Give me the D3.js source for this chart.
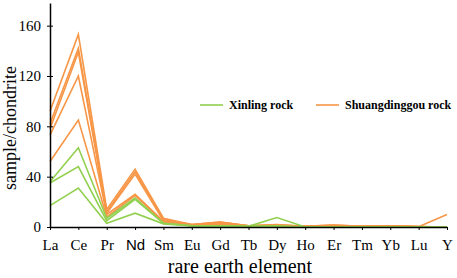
<!DOCTYPE html>
<html>
<head>
<meta charset="utf-8">
<script src="https://cdn.jsdelivr.net/npm/d3@7"></script>
<style>
  html, body { margin: 0; padding: 0; background: #fff; }
  svg { display: block; }
</style>
</head>
<body>
<div id="chart"></div>
<script>
const elements = ['La', 'Ce', 'Pr', 'Nd', 'Sm', 'Eu', 'Gd', 'Tb', 'Dy', 'Ho', 'Er', 'Tm', 'Yb', 'Lu', 'Y'];
const yTicks = [0, 40, 80, 120, 160];

// Xinling rock samples
const xinling1 = [36, 63, 7, 23, 3, 1, 1, 0.5, 7.5, 0, 0, 0, 0, 0, 0];
const xinling2 = [35, 48, 5, 22, 3, 1, 1, 0.5, 1, 0, 0, 0, 0, 0, 0];
const xinling3 = [17, 31, 3, 11, 2.5, 0.8, 0.8, 0.3, 0.5, 0, 0, 0, 0, 0, 0];

// Shuangdinggou rock samples
const shuang1 = [92, 153, 14, 46, 7, 2, 4, 1, 2, 0.5, 1.5, 0.5, 1, 0.3, 10];
const shuang2 = [82, 142, 12, 44, 6, 2, 4, 1, 1.5, 0.5, 1.5, 0.5, 1, 0.3, 0];
const shuang3 = [78, 139, 11, 42, 5, 1.8, 3.5, 1, 1.5, 0.5, 1, 0.5, 1, 0.3, 0];
const shuang4 = [73, 120, 10, 26, 4.5, 1.5, 3, 0.8, 1, 0.3, 1, 0.3, 0.8, 0.2, 0];
const shuang5 = [52, 85, 8, 25, 4, 1.5, 2.5, 0.8, 1, 0.3, 0.8, 0.3, 0.5, 0.2, 0];

const seriesNames = ['Xinling rock', 'Shuangdinggou rock'];
const colors = { 'Xinling rock': '#92D050', 'Shuangdinggou rock': '#F79646' };

const lines = [
  { name: 'Shuangdinggou rock', values: shuang1 },
  { name: 'Shuangdinggou rock', values: shuang2 },
  { name: 'Shuangdinggou rock', values: shuang3 },
  { name: 'Shuangdinggou rock', values: shuang4 },
  { name: 'Shuangdinggou rock', values: shuang5 },
  { name: 'Xinling rock', values: xinling1 },
  { name: 'Xinling rock', values: xinling2 },
  { name: 'Xinling rock', values: xinling3 }
];

const totalW = 457, totalH = 278;
const margin = { top: 3, right: 10, bottom: 51, left: 50 };
const W = 397;
const H = totalH - margin.top - margin.bottom;
const serif = "'Liberation Serif', 'Times New Roman', serif";

const svg = d3.select('#chart').append('svg')
  .attr('width', totalW).attr('height', totalH);

const g = svg.append('g').attr('transform', `translate(${margin.left},${margin.top})`);

const x = d3.scalePoint().domain(elements).range([0, W]);
const y = d3.scaleLinear().domain([0, 178]).range([H, 0]);

// Lines
const line = d3.line()
  .x((d, i) => x(elements[i]))
  .y(d => y(d));

g.selectAll('.series')
  .data(lines).enter().append('path')
  .attr('class', 'series')
  .attr('d', d => line(d.values))
  .attr('fill', 'none')
  .attr('stroke', d => colors[d.name])
  .attr('stroke-width', 1.6)
  .attr('stroke-linejoin', 'miter');

// X axis
const xAxis = g.append('g').attr('transform', `translate(0,${H})`)
  .call(d3.axisBottom(x).tickSize(3).tickSizeOuter(0).tickPadding(9));
xAxis.select('.domain').attr('stroke', '#000').attr('stroke-width', 1.5);
xAxis.selectAll('.tick line').attr('stroke', '#000');
xAxis.selectAll('.tick text')
  .attr('fill', '#000')
  .attr('font-family', d => d === 'Nd' ? "'Liberation Sans', Arial, sans-serif" : serif)
  .attr('font-size', '15px');

// Y axis
const yAxis = g.append('g')
  .call(d3.axisLeft(y).tickValues(yTicks).tickSize(3).tickSizeOuter(0).tickPadding(6));
yAxis.select('.domain').attr('stroke', '#000').attr('stroke-width', 1.5);
yAxis.selectAll('.tick line').attr('stroke', '#000').attr('x1', 3);
yAxis.selectAll('.tick text')
  .attr('fill', '#000')
  .attr('font-family', serif)
  .attr('font-size', '15px');

// Axis titles
svg.append('text')
  .attr('transform', `translate(16,${margin.top + 125}) rotate(-90)`)
  .attr('text-anchor', 'middle')
  .attr('font-family', serif).attr('font-size', '18px')
  .text('sample/chondrite');

svg.append('text')
  .attr('x', 240).attr('y', 273)
  .attr('text-anchor', 'middle')
  .attr('font-family', serif).attr('font-size', '20px')
  .text('rare earth element');

// Legend
const legend = svg.append('g').attr('transform', 'translate(200,105)');
[[seriesNames[0], 0], [seriesNames[1], 116]].forEach(([name, dx]) => {
  const lg = legend.append('g').attr('transform', `translate(${dx},0)`);
  lg.append('line').attr('x1', 0).attr('x2', 23).attr('y1', 0).attr('y2', 0)
    .attr('stroke', colors[name]).attr('stroke-width', 1.6);
  lg.append('text').attr('x', 29).attr('y', 4)
    .attr('font-family', serif).attr('font-size', '12px').attr('font-weight', 'bold')
    .text(name);
});
</script>
</body>
</html>
